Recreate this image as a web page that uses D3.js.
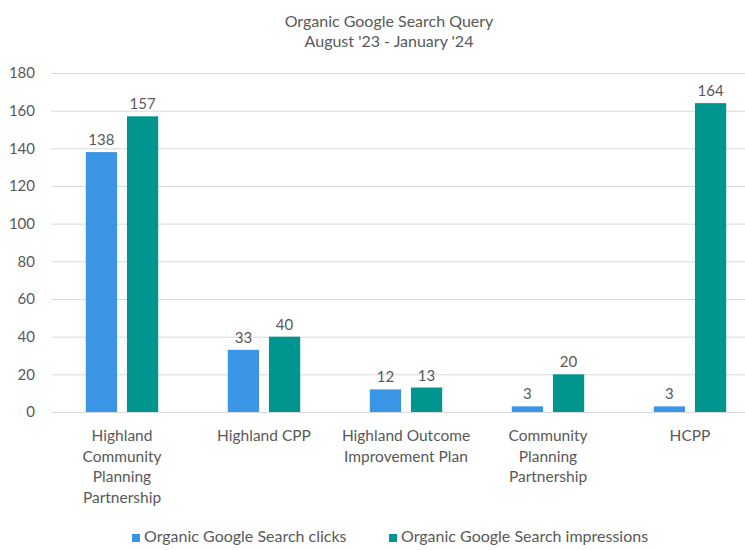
<!DOCTYPE html>
<html>
<head>
<meta charset="utf-8">
<script src="https://cdn.jsdelivr.net/npm/d3@7"></script>
<style>
  body { margin: 0; background: #fff; }
  text { font-family: Lato, "Open Sans", sans-serif; fill: #595959; }
</style>
</head>
<body>
<div id="chart"></div>
<script>
var categories = [
  ["Highland", "Community", "Planning", "Partnership"],
  ["Highland CPP"],
  ["Highland Outcome", "Improvement Plan"],
  ["Community", "Planning", "Partnership"],
  ["HCPP"]
];
var seriesNames = ["Organic Google Search clicks", "Organic Google Search impressions"];
var clicks = [138, 33, 12, 3, 3];
var impressions = [157, 40, 13, 20, 164];
var yTicks = [0, 20, 40, 60, 80, 100, 120, 140, 160, 180];
var colors = ["#3a95e6", "#00968f"];

var w = 745, h = 550;
var svg = d3.select("#chart").append("svg").attr("width", w).attr("height", h);

var catKeys = categories.map(function(c) { return c.join(" "); });
var x0 = d3.scaleBand().domain(catKeys).range([51, 761]).paddingInner(0.49).paddingOuter(0.245);
var x1 = d3.scaleBand().domain(seriesNames).range([0, x0.bandwidth()]).paddingInner(0.24);
var y = d3.scaleLinear().domain([0, 180]).range([412, 73]);

// gridlines
svg.append("g").selectAll("line").data(yTicks).enter().append("line")
  .attr("x1", 51).attr("x2", w)
  .attr("y1", function(d) { return y(d) + 0.5; }).attr("y2", function(d) { return y(d) + 0.5; })
  .attr("stroke", "#d9d9d9").attr("stroke-width", 1);

// y axis labels
var yAxis = d3.axisLeft(y).tickValues(yTicks).tickSize(0).tickPadding(0);
var ya = svg.append("g").attr("transform", "translate(35,0)").call(yAxis);
ya.select(".domain").remove();
ya.selectAll("text").style("font-size", "15px").style("fill", "#595959").style("font-family", "Lato, sans-serif");

var rows = catKeys.map(function(k, i) {
  return { key: k, values: [clicks[i], impressions[i]] };
});

var groups = svg.append("g").selectAll("g").data(rows).enter().append("g")
  .attr("transform", function(d) { return "translate(" + x0(d.key) + ",0)"; });

groups.selectAll("rect").data(function(d) {
  return d.values.map(function(v, j) { return { s: seriesNames[j], v: v, j: j }; });
}).enter().append("rect")
  .attr("x", function(d) { return x1(d.s); })
  .attr("width", x1.bandwidth())
  .attr("y", function(d) { return y(d.v); })
  .attr("height", function(d) { return y(0) - y(d.v); })
  .attr("fill", function(d) { return colors[d.j]; });

groups.selectAll("text.val").data(function(d) {
  return d.values.map(function(v, j) { return { s: seriesNames[j], v: v }; });
}).enter().append("text")
  .attr("class", "val")
  .attr("x", function(d) { return x1(d.s) + x1.bandwidth() / 2; })
  .attr("y", function(d) { return y(d.v) - 7; })
  .attr("text-anchor", "middle")
  .style("font-size", "15px")
  .text(function(d) { return d.v; });

// category labels
var xAxis = svg.append("g");
categories.forEach(function(lines, i) {
  var cx = x0(catKeys[i]) + x0.bandwidth() / 2;
  var t = xAxis.append("text")
    .attr("x", cx)
    .attr("y", 441)
    .attr("text-anchor", "middle")
    .style("font-size", "15.5px");
  lines.forEach(function(l, k) {
    t.append("tspan").attr("x", cx).attr("dy", k === 0 ? 0 : 20.7).text(l);
  });
});

// title
svg.append("text").attr("x", 389).attr("y", 27).attr("text-anchor", "middle")
  .style("font-size", "16px").text("Organic Google Search Query");
svg.append("text").attr("x", 389).attr("y", 47).attr("text-anchor", "middle")
  .style("font-size", "16px").text("August '23 - January '24");

// legend
var legendX = [132, 389];
var leg = svg.append("g").selectAll("g").data(seriesNames).enter().append("g")
  .attr("transform", function(d, i) { return "translate(" + legendX[i] + ",542)"; });
leg.append("rect").attr("x", 0).attr("y", -8).attr("width", 8).attr("height", 8)
  .attr("fill", function(d, i) { return colors[i]; });
leg.append("text").attr("x", 12).attr("y", 0)
  .style("font-size", "16px").text(function(d) { return d; });
</script>
</body>
</html>
